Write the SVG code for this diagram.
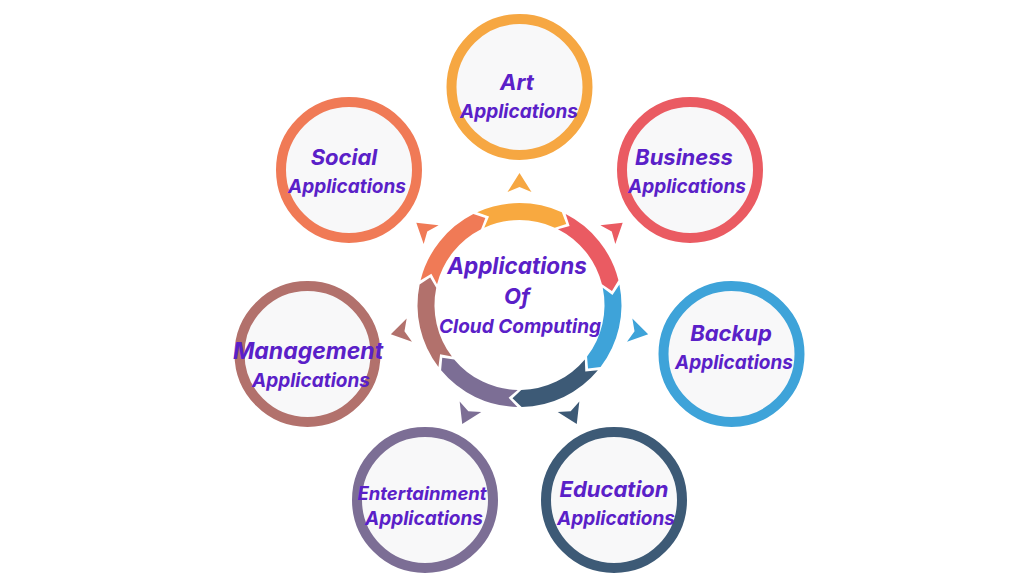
<svg xmlns="http://www.w3.org/2000/svg" xmlns:xlink="http://www.w3.org/1999/xlink" width="1024" height="575" viewBox="0 0 1024 575">
<style>
.node{fill:#f8f8f9;stroke-width:10}
.t{font-family:Inter,"Open Sans","Liberation Sans",sans-serif;font-weight:700;font-style:italic;fill:#5a20c8;text-anchor:middle}
.h{font-size:22px}
.s{font-size:19px}
</style>
<defs>
<path id="seg" d="M -42.32,-92.81 A 102 102 0 0 1 42.32,-92.81 L 46.77,-80.96 L 35.27,-77.34 A 85 85 0 0 0 -35.27,-77.34 L -30.46,-88.40 Z"/>
<path id="tri" d="M 0,-132 L 12,-113 L 0,-118 L -12,-113 Z"/>
</defs>
<rect width="1024" height="575" fill="#ffffff"/>
<g id="connectors">
<use xlink:href="#tri" fill="#f6a742" transform="translate(519.5,305) rotate(0)"/>
<use xlink:href="#tri" fill="#ea5b62" transform="translate(519.5,305) rotate(51.4286)"/>
<use xlink:href="#tri" fill="#3ea3d9" transform="translate(519.5,305) rotate(102.857)"/>
<use xlink:href="#tri" fill="#3d5a76" transform="translate(519.5,305) rotate(154.286)"/>
<use xlink:href="#tri" fill="#7c6e95" transform="translate(519.5,305) rotate(205.714)"/>
<use xlink:href="#tri" fill="#b2716c" transform="translate(519.5,305) rotate(257.143)"/>
<use xlink:href="#tri" fill="#f07a56" transform="translate(519.5,305) rotate(308.571)"/>
</g>
<g id="center">
<use xlink:href="#seg" fill="#f8a940" transform="translate(519.5,305) rotate(0)"/>
<use xlink:href="#seg" fill="#ea5b62" transform="translate(519.5,305) rotate(51.4286)"/>
<use xlink:href="#seg" fill="#3ea3d9" transform="translate(519.5,305) rotate(102.857)"/>
<use xlink:href="#seg" fill="#3d5a76" transform="translate(519.5,305) rotate(154.286)"/>
<use xlink:href="#seg" fill="#7c6e95" transform="translate(519.5,305) rotate(205.714)"/>
<use xlink:href="#seg" fill="#b2716c" transform="translate(519.5,305) rotate(257.143)"/>
<use xlink:href="#seg" fill="#f07a56" transform="translate(519.5,305) rotate(308.571)"/>
<text class="t" x="517" y="274" font-size="22.5">Applications</text>
<text class="t" x="517" y="304" font-size="22">Of</text>
<text class="t" x="520" y="333" font-size="19">Cloud Computing</text>
</g>
<g id="art">
<circle class="node" cx="519.5" cy="87" r="68" stroke="#f6a742"/>
<text class="t h" x="517" y="90">Art</text>
<text class="t s" x="519" y="118">Applications</text>
</g>
<g id="business">
<circle class="node" cx="690" cy="170" r="68" stroke="#ea5b62"/>
<text class="t h" x="684" y="165">Business</text>
<text class="t s" x="687" y="193">Applications</text>
</g>
<g id="backup">
<circle class="node" cx="731.5" cy="354" r="68" stroke="#3ea3d9"/>
<text class="t h" x="731" y="341">Backup</text>
<text class="t s" x="734" y="369">Applications</text>
</g>
<g id="education">
<circle class="node" cx="614" cy="500" r="68" stroke="#3d5a76"/>
<text class="t h" x="614" y="497">Education</text>
<text class="t s" x="616" y="525">Applications</text>
</g>
<g id="entertainment">
<circle class="node" cx="425" cy="500" r="68" stroke="#7c6e95"/>
<text class="t" x="422" y="500" font-size="18.5">Entertainment</text>
<text class="t s" x="424" y="525">Applications</text>
</g>
<g id="management">
<circle class="node" cx="307.5" cy="354" r="68" stroke="#b2716c"/>
<text class="t" x="308" y="359" font-size="23">Management</text>
<text class="t s" x="311" y="387">Applications</text>
</g>
<g id="social">
<circle class="node" cx="349" cy="170" r="68" stroke="#f07a56"/>
<text class="t h" x="344" y="165">Social</text>
<text class="t s" x="347" y="193">Applications</text>
</g>
</svg>
